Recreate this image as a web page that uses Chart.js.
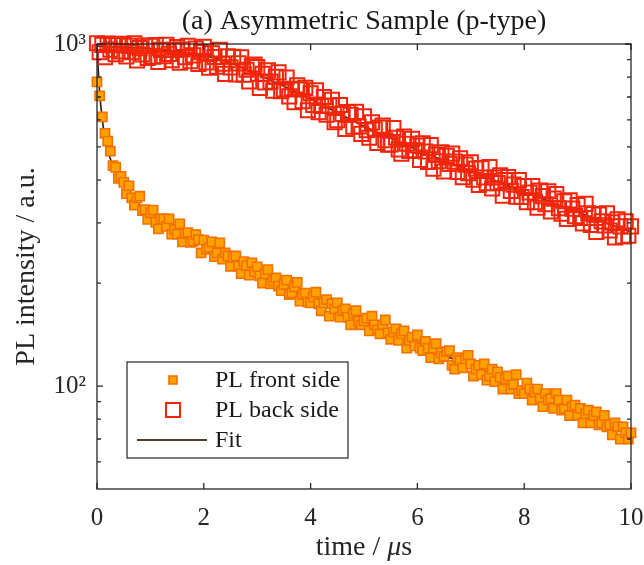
<!DOCTYPE html>
<html>
<head>
<meta charset="utf-8">
<script src="https://cdn.jsdelivr.net/npm/chart.js@4.4.1/dist/chart.umd.min.js"></script>
<style>
  html, body { margin: 0; padding: 0; background: #fff; }
  #plChart { display: block; }
</style>
</head>
<body>
<canvas id="plChart" width="644" height="565"></canvas>
<script>
// sampling times in µs (shared by both measured traces)
const sampleTime = [
  0, 0.05, 0.1, 0.15, 0.2, 0.25, 0.3, 0.35, 0.4, 0.45,
  0.5, 0.55, 0.6, 0.65, 0.7, 0.75, 0.8, 0.85, 0.9, 0.95,
  1, 1.05, 1.1, 1.15, 1.2, 1.25, 1.3, 1.35, 1.4, 1.45,
  1.5, 1.55, 1.6, 1.65, 1.7, 1.75, 1.8, 1.85, 1.9, 1.95,
  2, 2.05, 2.1, 2.15, 2.2, 2.25, 2.3, 2.35, 2.4, 2.45,
  2.5, 2.55, 2.6, 2.65, 2.7, 2.75, 2.8, 2.85, 2.9, 2.95,
  3, 3.05, 3.1, 3.15, 3.2, 3.25, 3.3, 3.35, 3.4, 3.45,
  3.5, 3.55, 3.6, 3.65, 3.7, 3.75, 3.8, 3.85, 3.9, 3.95,
  4, 4.05, 4.1, 4.15, 4.2, 4.25, 4.3, 4.35, 4.4, 4.45,
  4.5, 4.55, 4.6, 4.65, 4.7, 4.75, 4.8, 4.85, 4.9, 4.95,
  5, 5.05, 5.1, 5.15, 5.2, 5.25, 5.3, 5.35, 5.4, 5.45,
  5.5, 5.55, 5.6, 5.65, 5.7, 5.75, 5.8, 5.85, 5.9, 5.95,
  6, 6.05, 6.1, 6.15, 6.2, 6.25, 6.3, 6.35, 6.4, 6.45,
  6.5, 6.55, 6.6, 6.65, 6.7, 6.75, 6.8, 6.85, 6.9, 6.95,
  7, 7.05, 7.1, 7.15, 7.2, 7.25, 7.3, 7.35, 7.4, 7.45,
  7.5, 7.55, 7.6, 7.65, 7.7, 7.75, 7.8, 7.85, 7.9, 7.95,
  8, 8.05, 8.1, 8.15, 8.2, 8.25, 8.3, 8.35, 8.4, 8.45,
  8.5, 8.55, 8.6, 8.65, 8.7, 8.75, 8.8, 8.85, 8.9, 8.95,
  9, 9.05, 9.1, 9.15, 9.2, 9.25, 9.3, 9.35, 9.4, 9.45,
  9.5, 9.55, 9.6, 9.65, 9.7, 9.75, 9.8, 9.85, 9.9, 9.95,
  10
];

// PL front side (a.u.)
const frontPL = [
  775, 705, 612, 548, 520, 486, 441, 436, 405, 410,
  394, 365, 385, 355, 338, 355, 359, 326, 328, 307,
  321, 327, 301, 288, 308, 308, 293, 308, 278, 287,
  278, 298, 264, 279, 281, 263, 265, 277, 268, 245,
  267, 251, 254, 264, 239, 245, 262, 235, 245, 240,
  224, 238, 240, 224, 213, 231, 225, 211, 229, 216,
  223, 210, 200, 213, 219, 199, 203, 207, 196, 190,
  198, 204, 185, 187, 195, 201, 177, 185, 187, 176,
  175, 182, 188, 174, 166, 175, 179, 160, 174, 168,
  175, 159, 166, 168, 159, 151, 163, 166, 155, 151,
  155, 158, 145, 160, 151, 146, 142, 151, 156, 143,
  137, 144, 147, 136, 142, 145, 129, 136, 139, 131,
  141, 129, 127, 135, 129, 121, 129, 133, 120, 125,
  122, 126, 127, 115, 112, 121, 119, 113, 120, 123,
  116, 107, 112, 115, 108, 116, 104, 107, 112, 103,
  110, 106, 98, 105, 107, 98, 101, 108, 95, 97,
  95, 102, 98, 91, 96, 98, 92, 87, 95, 91,
  92, 86, 95, 91, 85, 86, 91, 82, 87, 88,
  82, 86, 78, 83, 85, 78, 82, 84, 77, 78,
  82, 76, 77, 72, 78, 76, 70, 76, 73, 70,
  73
];

// PL back side (a.u.)
const backPL = [
  1005, 946, 994, 915, 1003, 963, 992, 933, 1001, 952,
  1000, 920, 987, 947, 1004, 896, 973, 932, 989, 911,
  987, 918, 993, 886, 961, 921, 995, 936, 897, 962,
  979, 882, 964, 915, 987, 891, 926, 970, 874, 947,
  981, 883, 852, 939, 916, 858, 961, 876, 818, 920,
  854, 918, 815, 878, 914, 814, 841, 777, 861, 871,
  856, 744, 818, 772, 837, 776, 730, 802, 826, 728,
  737, 798, 703, 740, 676, 757, 736, 681, 744, 640,
  718, 663, 732, 632, 659, 700, 621, 661, 687, 591,
  599, 663, 625, 565, 632, 621, 573, 633, 574, 546,
  615, 560, 532, 590, 563, 514, 570, 577, 523, 508,
  509, 568, 532, 492, 478, 536, 511, 487, 528, 489,
  505, 458, 512, 485, 452, 506, 432, 475, 454, 482,
  424, 471, 446, 478, 453, 423, 463, 408, 444, 419,
  451, 401, 432, 387, 434, 407, 392, 437, 378, 407,
  392, 413, 360, 400, 408, 372, 388, 358, 400, 357,
  384, 345, 368, 384, 345, 332, 373, 359, 340, 371,
  324, 353, 364, 331, 319, 347, 308, 349, 330, 314,
  338, 310, 299, 341, 320, 296, 318, 282, 317, 303,
  295, 320, 285, 301, 272, 307, 293, 274, 303, 275,
  293
];

// fitted curves
const frontFitTime = [0, 0.02, 0.05, 0.1, 0.15, 0.2, 0.3, 0.4, 0.5, 0.6, 0.8, 1, 1.25, 1.5, 2, 2.5, 3, 3.5, 4, 4.5, 5, 5.5, 6, 6.5, 7, 7.5, 8, 8.5, 9, 9.5, 10];
const frontFitPL = [1000, 860, 720, 600, 530, 490, 440, 408, 386, 367, 339, 318, 299, 284, 259, 236, 214, 196, 180, 167, 155, 143, 133, 123, 114, 105, 98, 91, 84, 78, 72];
const backFitTime = [0, 0.5, 1, 1.5, 2, 2.5, 3, 3.5, 4, 4.5, 5, 5.5, 6, 6.5, 7, 7.5, 8, 8.5, 9, 9.5, 10];
const backFitPL = [985, 980, 968, 950, 925, 880, 815, 752, 690, 630, 575, 530, 490, 456, 425, 396, 369, 345, 322, 301, 282];

// axes
const xTickValues = [0, 2, 4, 6, 8, 10];
const yTickValues = [60, 70, 80, 90, 100, 200, 300, 400, 500, 600, 700, 800, 900, 1000];
const yTickLabels = { 100: '10\u00B2', 1000: '10\u00B3' };
const legendLabels = ['PL front side', 'PL back side', 'Fit'];
const chartTitle = '(a) Asymmetric Sample (p-type)';

const serif = '"Liberation Serif", "Times New Roman", serif';
const axisColor = '#262626';
const frontFill = '#ffa200';
const frontEdge = '#f27000';
const backEdge = '#f2250a';
const fitColor = '#2a1c12';

const toPoints = (xs, ys) => xs.map((x, i) => ({ x: x, y: ys[i] }));

// box, inner tick marks, legend, title and the x label (with italic mu)
const framePlugin = {
  id: 'frame',
  afterDraw(chart) {
    const { ctx, chartArea: a, scales: { x, y } } = chart;
    ctx.save();
    ctx.strokeStyle = axisColor;
    ctx.lineWidth = 1.3;
    ctx.strokeRect(a.left, a.top, a.right - a.left, a.bottom - a.top);
    ctx.beginPath();
    x.ticks.forEach(t => {
      const px = x.getPixelForValue(t.value);
      ctx.moveTo(px, a.bottom); ctx.lineTo(px, a.bottom - 6);
      ctx.moveTo(px, a.top); ctx.lineTo(px, a.top + 6);
    });
    y.ticks.forEach(t => {
      const py = y.getPixelForValue(t.value);
      const len = yTickLabels[t.value] ? 6 : 4;
      ctx.moveTo(a.left, py); ctx.lineTo(a.left + len, py);
      ctx.moveTo(a.right, py); ctx.lineTo(a.right - len, py);
    });
    ctx.stroke();

    // title, centred over the axes box
    ctx.fillStyle = '#1a1a1a';
    ctx.font = '28px ' + serif;
    ctx.textAlign = 'center';
    ctx.textBaseline = 'middle';
    ctx.fillText(chartTitle, (a.left + a.right) / 2, 22);

    // legend
    const lx = 127, ly = 362, lw = 221, lh = 96;
    ctx.fillStyle = '#fff';
    ctx.fillRect(lx, ly, lw, lh);
    ctx.lineWidth = 1.2;
    ctx.strokeStyle = axisColor;
    ctx.strokeRect(lx, ly, lw, lh);
    const rows = [380, 410, 440];
    ctx.fillStyle = frontFill;
    ctx.strokeStyle = frontEdge;
    ctx.lineWidth = 1.6;
    ctx.fillRect(173 - 4, rows[0] - 4, 8, 8);
    ctx.strokeRect(173 - 4, rows[0] - 4, 8, 8);
    ctx.strokeStyle = backEdge;
    ctx.lineWidth = 2;
    ctx.strokeRect(173 - 7, rows[1] - 7, 14, 14);
    ctx.strokeStyle = '#4a3b2c';
    ctx.lineWidth = 2;
    ctx.beginPath();
    ctx.moveTo(137, rows[2]); ctx.lineTo(207, rows[2]);
    ctx.stroke();
    ctx.fillStyle = '#1a1a1a';
    ctx.font = '24px ' + serif;
    ctx.textAlign = 'left';
    legendLabels.forEach((txt, i) => ctx.fillText(txt, 215, rows[i] + 1));

    // x axis title: "time / μs"
    const parts = [['time / ', ''], ['\u03BC', 'italic '], ['s', '']];
    let total = 0;
    parts.forEach(p => { ctx.font = p[1] + '28px ' + serif; total += ctx.measureText(p[0]).width; });
    let cx = (a.left + a.right) / 2 - total / 2;
    ctx.fillStyle = axisColor;
    parts.forEach(p => {
      ctx.font = p[1] + '28px ' + serif;
      ctx.fillText(p[0], cx, 548);
      cx += ctx.measureText(p[0]).width;
    });
    ctx.restore();
  }
};

Chart.defaults.font.family = serif;
Chart.defaults.color = axisColor;

const chart = new Chart(document.getElementById('plChart'), {
  type: 'scatter',
  data: {
    datasets: [
      {
        label: legendLabels[0],
        data: toPoints(sampleTime, frontPL),
        pointStyle: 'rect',
        pointRadius: 6.5,
        backgroundColor: frontFill,
        borderColor: frontEdge,
        borderWidth: 1.6,
        clip: false
      },
      {
        label: legendLabels[1],
        data: toPoints(sampleTime, backPL),
        pointStyle: 'rect',
        pointRadius: 10,
        backgroundColor: 'rgba(0,0,0,0)',
        borderColor: backEdge,
        borderWidth: 2,
        clip: false
      },
      {
        label: legendLabels[2],
        data: toPoints(frontFitTime, frontFitPL),
        showLine: true,
        pointRadius: 0,
        borderColor: fitColor,
        borderWidth: 1.6,
        cubicInterpolationMode: 'monotone'
      },
      {
        label: 'Fit (back)',
        data: toPoints(backFitTime, backFitPL),
        showLine: true,
        pointRadius: 0,
        borderColor: fitColor,
        borderWidth: 1.6,
        cubicInterpolationMode: 'monotone'
      }
    ]
  },
  options: {
    responsive: false,
    animation: false,
    layout: { padding: { left: 0, right: 13, top: 44, bottom: 0 } },
    plugins: {
      legend: { display: false },
      tooltip: { enabled: false },
      title: { display: false }
    },
    scales: {
      x: {
        type: 'linear',
        min: 0,
        max: 10,
        afterBuildTicks: axis => { axis.ticks = xTickValues.map(v => ({ value: v })); },
        afterFit: axis => { axis.height = 76; axis.paddingLeft = 0; axis.paddingRight = 0; },
        grid: { display: false, drawTicks: false },
        border: { display: false },
        ticks: {
          font: { family: serif, size: 25, lineHeight: 1.2 },
          color: axisColor,
          padding: 14,
          maxRotation: 0,
          autoSkip: false
        }
      },
      y: {
        type: 'logarithmic',
        min: 50,
        max: 1000,
        afterBuildTicks: axis => { axis.ticks = yTickValues.map(v => ({ value: v })); },
        afterFit: axis => { axis.width = 97; axis.paddingTop = 0; axis.paddingBottom = 0; },
        grid: { display: false, drawTicks: false },
        border: { display: false },
        ticks: {
          font: { family: serif, size: 25, lineHeight: 1.2 },
          color: axisColor,
          padding: 11,
          autoSkip: false,
          callback: v => yTickLabels[v] || ''
        },
        title: {
          display: true,
          text: 'PL intensity / a.u.',
          font: { family: serif, size: 28, lineHeight: 1.2 },
          color: axisColor,
          padding: { top: 10, bottom: 0 }
        }
      }
    }
  },
  plugins: [framePlugin]
});
</script>
</body>
</html>
